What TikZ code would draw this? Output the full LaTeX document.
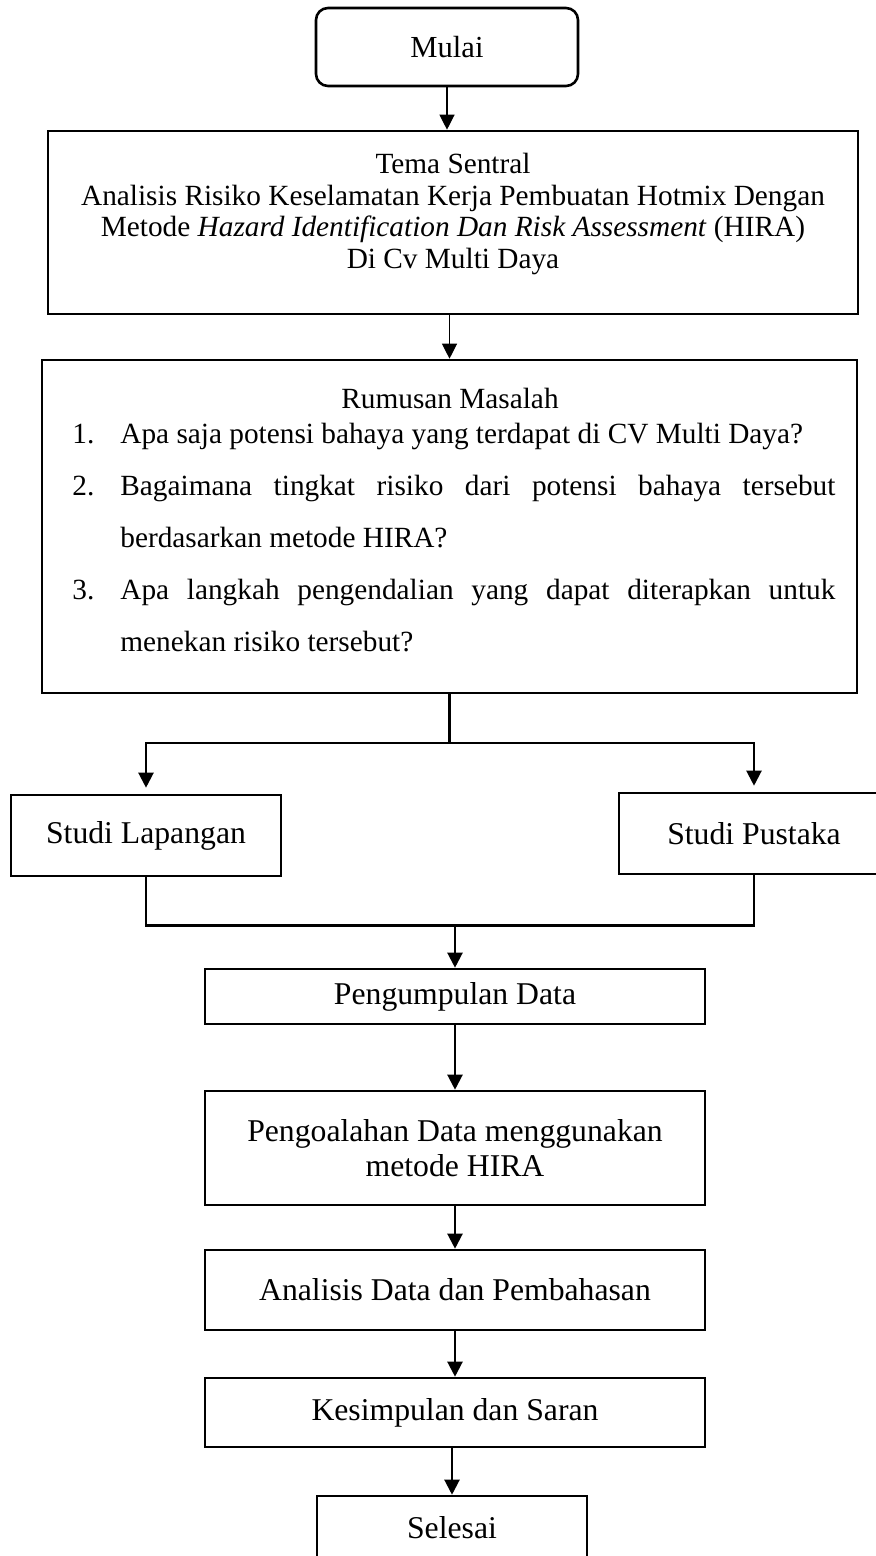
\documentclass[tikz,border=0pt]{standalone}
\usepackage{fontspec}
\setmainfont{Liberation Serif}
\usetikzlibrary{arrows.meta,positioning}

\begin{document}
\begin{tikzpicture}[x=0.5pt,y=-0.5pt,>={Triangle[length=7.5pt,width=7.5pt]},
  box/.style={draw,line width=1.3pt,align=center,inner sep=0pt,font=\fontsize{15.85}{17.5}\selectfont},
  txt/.style={inner sep=0pt,font=\fontsize{14.65}{15.8}\selectfont},
  flow/.style={->,line width=1.1pt},
  thinflow/.style={->,line width=0.6pt},
  bar/.style={line width=1.25pt}]
  \useasboundingbox (0,0) rectangle (875,1556);
  \node[box,rounded corners=6pt,minimum width=131pt,minimum height=39pt,font=\fontsize{15.3}{17}\selectfont] (mulai) at (447,47) {Mulai};
  \node[box,minimum width=405pt,minimum height=91.5pt] (tema) at (453,222.5) {};
  \node[txt,align=center] (tematext) at (453,214) {Tema Sentral\\Analisis Risiko Keselamatan Kerja Pembuatan Hotmix Dengan\\Metode \textit{Hazard Identification Dan Risk Assessment} (HIRA)\\Di Cv Multi Daya};
  \node[box,minimum width=407.5pt,minimum height=166.5pt] (rumusan) at (449.5,526.5) {};
  \node[txt,anchor=base] (rmtitle) at (450,408) {Rumusan Masalah};
  \foreach \n/\yy in {1/443,2/495,3/599}
    \node[txt,anchor=base west] (no\n) at (72,\yy) {\n.};
  \node[txt,anchor=base west] (it1) at (120,443) {Apa saja potensi bahaya yang terdapat di CV Multi Daya?};
  \node[txt,anchor=base west] (it2a) at (120,495) {\makebox[357.5pt][s]{Bagaimana tingkat risiko dari potensi bahaya tersebut}};
  \node[txt,anchor=base west] (it2b) at (120,547) {berdasarkan metode HIRA?};
  \node[txt,anchor=base west] (it3a) at (120,599) {\makebox[357.5pt][s]{Apa langkah pengendalian yang dapat diterapkan untuk}};
  \node[txt,anchor=base west] (it3b) at (120,651) {menekan risiko tersebut?};
  \node[box,minimum width=135pt,minimum height=40.5pt] (lapangan) at (146,835.5) {Studi Lapangan};
  \node[box,minimum width=135pt,minimum height=40.5pt] (pustaka) at (754,833.5) {Studi Pustaka};
  \node[box,minimum width=250pt,minimum height=27.5pt] (kumpul) at (455,996.5) {Pengumpulan Data};
  \node[box,minimum width=250pt,minimum height=57pt] (olah) at (455,1148) {Pengoalahan Data menggunakan\\metode HIRA};
  \node[box,minimum width=250pt,minimum height=40pt] (analisis) at (455,1290) {Analisis Data dan Pembahasan};
  \node[box,minimum width=250pt,minimum height=34.5pt] (simpul) at (455,1412.5) {Kesimpulan dan Saran};
  \node[box,minimum width=135pt,minimum height=32pt] (selesai) at (452,1528) {Selesai};
  % connectors
  \draw[thinflow] (mulai.south) -- (mulai.south |- tema.north);
  \draw[thinflow] (rumusan.north |- tema.south) -- (rumusan.north);
  \coordinate[below=24.5pt of rumusan.south] (split);
  \draw[bar] (rumusan.south) -- (split);
  \draw[flow,shorten >=3pt] (split) -| (lapangan.north);
  \draw[flow,shorten >=3pt] (split) -| (pustaka.north);
  \coordinate[below=24pt of lapangan.south] (join);
  \draw[bar] (lapangan.south) -- (join) -- (join -| pustaka.south) -- (pustaka.south);
  \draw[flow] (join -| kumpul.north) -- (kumpul.north);
  \draw[flow] (kumpul) -- (olah);
  \draw[flow] (olah) -- (analisis);
  \draw[flow] (analisis) -- (simpul);
  \draw[flow] (simpul.south -| selesai.north) -- (selesai.north);
\end{tikzpicture}
\end{document}
